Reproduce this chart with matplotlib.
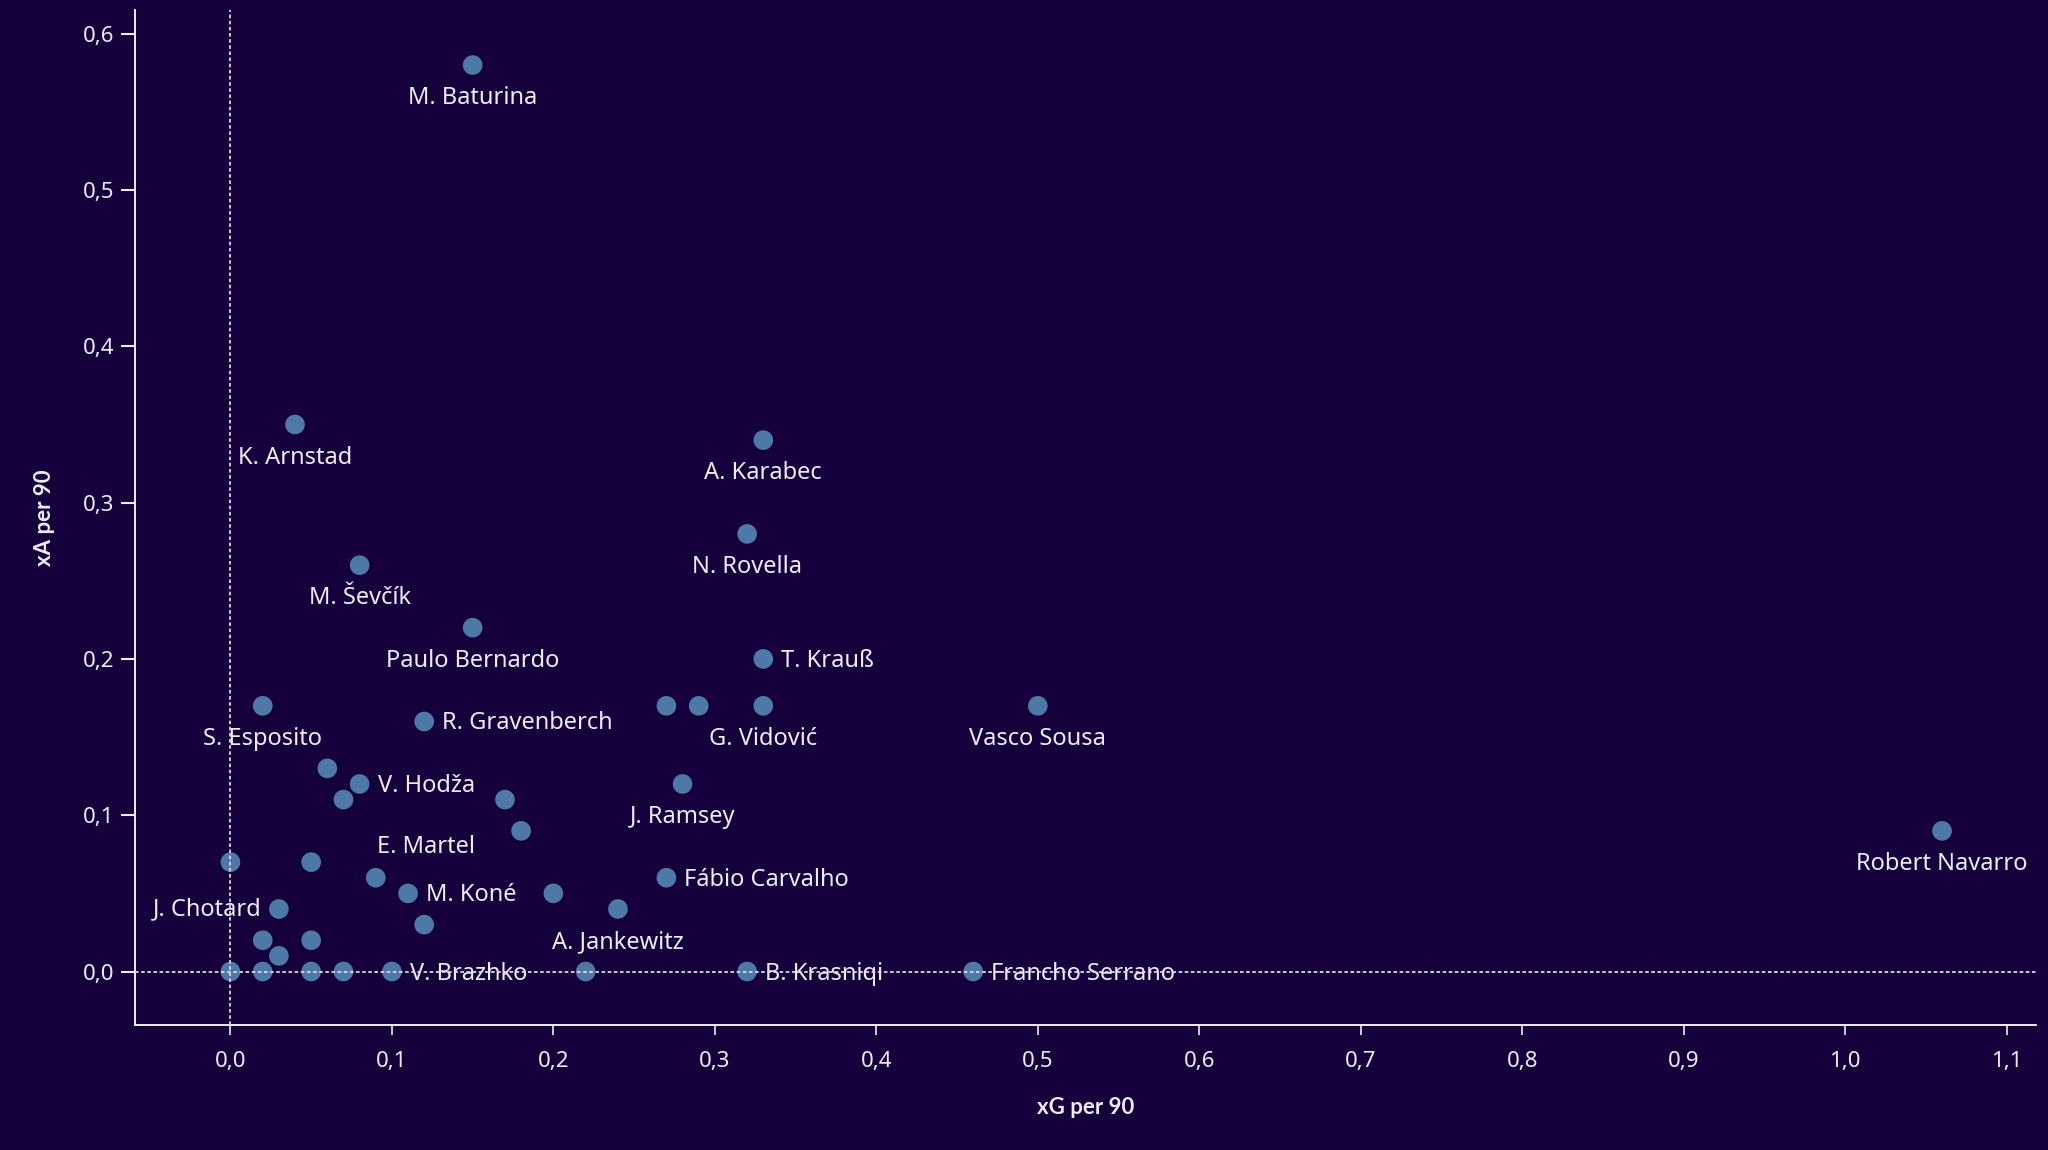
"""xG vs xA per 90 scatter, dark Tableau-like style."""
import matplotlib
matplotlib.use('Agg')
import matplotlib.pyplot as plt
from matplotlib.ticker import FuncFormatter

BG = '#16003b'
DOT = '#4e79a7'
FG = '#ececf4'

plt.rcParams.update({
    'font.family': ['Noto Sans', 'DejaVu Sans'],
    'text.color': FG,
    'axes.labelcolor': FG,
    'xtick.color': FG,
    'ytick.color': FG,
})

# data: xG per 90, xA per 90, player label ('' = no label)
xg = [0.15, 0.04, 0.33, 0.32, 0.08, 0.15, 0.33, 0.02, 0.12, 0.27, 0.29, 0.33,
      0.50, 0.06, 0.08, 0.07, 0.17, 0.28, 0.18, 1.06, 0.00, 0.05, 0.09, 0.11,
      0.20, 0.27, 0.24, 0.03, 0.02, 0.05, 0.03, 0.12,
      0.00, 0.02, 0.05, 0.07, 0.10, 0.22, 0.32, 0.46]
xa = [0.58, 0.35, 0.34, 0.28, 0.26, 0.22, 0.20, 0.17, 0.16, 0.17, 0.17, 0.17,
      0.17, 0.13, 0.12, 0.11, 0.11, 0.12, 0.09, 0.09, 0.07, 0.07, 0.06, 0.05,
      0.05, 0.06, 0.04, 0.04, 0.02, 0.02, 0.01, 0.03,
      0.00, 0.00, 0.00, 0.00, 0.00, 0.00, 0.00, 0.00]
names = ['M. Baturina', 'K. Arnstad', 'A. Karabec', 'N. Rovella', 'M. Ševčík',
         'Paulo Bernardo', 'T. Krauß', 'S. Esposito', 'R. Gravenberch', '', '',
         'G. Vidović', 'Vasco Sousa', '', 'V. Hodža', '', '', 'J. Ramsey', '',
         'Robert Navarro', '', '', 'E. Martel', 'M. Koné', '', 'Fábio Carvalho',
         'A. Jankewitz', 'J. Chotard', '', '', '', '',
         '', '', '', '', 'V. Brazhko', '', 'B. Krasniqi', 'Francho Serrano']

right_labels = {'T. Krauß', 'R. Gravenberch', 'V. Hodža', 'M. Koné',
                'Fábio Carvalho', 'V. Brazhko', 'B. Krasniqi', 'Francho Serrano'}

fig = plt.figure(figsize=(20.48, 11.5), dpi=100, facecolor=BG)
ax = fig.add_axes([0.066, 0.109, 0.928, 0.882], facecolor=BG)

ax.scatter(xg, xa, s=200, color=DOT, edgecolors='none', zorder=3)

for x, y, name in zip(xg, xa, names):
    if not name:
        continue
    if name in right_labels:
        off, ha, va = (18, -2), 'left', 'center'
    elif name == 'J. Chotard':
        off, ha, va = (-17, 0), 'right', 'center'
    elif name == 'E. Martel':
        off, ha, va = (1, 31), 'left', 'center'
    else:
        off, ha, va = (0, -33), 'center', 'center'
    ax.annotate(name, (x, y), xytext=off, textcoords='offset pixels',
                ha=ha, va=va, fontsize=17, color=FG, zorder=4)

# reference lines at zero
ax.axvline(0, color='#d8d8e0', linestyle=(0, (2, 1.4)), linewidth=1.3, zorder=5)
ax.axhline(0, color='#d8d8e0', linestyle=(0, (2, 1.4)), linewidth=1.3, zorder=5)

ax.set_xlim(-0.059, 1.118)
ax.set_ylim(-0.034, 0.615)
ax.set_xticks([i / 10 for i in range(12)])
ax.set_yticks([i / 10 for i in range(7)])
fmt = FuncFormatter(lambda v, p: f'{v:.1f}'.replace('.', ','))
ax.xaxis.set_major_formatter(fmt)
ax.yaxis.set_major_formatter(fmt)
ax.tick_params(axis='x', length=7, width=1.2, labelsize=16, pad=12)
ax.tick_params(axis='y', length=10, width=1.5, labelsize=16, pad=5)

for s in ['top', 'right']:
    ax.spines[s].set_visible(False)
for s in ['left', 'bottom']:
    ax.spines[s].set_color('white')
    ax.spines[s].set_linewidth(1.3)

title_font = dict(fontsize=16, fontweight='bold', family=['Lato', 'DejaVu Sans'])
ax.set_xlabel('xG per 90', labelpad=18, **title_font)
ax.set_ylabel('xA per 90', labelpad=20, **title_font)

fig.savefig('out.png', dpi=100, facecolor=BG)
